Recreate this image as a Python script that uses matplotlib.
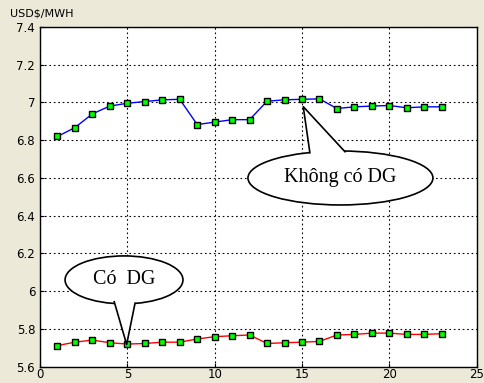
import matplotlib
matplotlib.use("Agg")
import matplotlib.pyplot as plt
from matplotlib.patches import Ellipse, Polygon

hours = list(range(1, 24))
khong_dg = [6.82, 6.867, 6.94, 6.981, 6.996, 7.005, 7.014, 7.017, 6.883, 6.896, 6.909, 6.909,
            7.007, 7.014, 7.017, 7.019, 6.968, 6.977, 6.981, 6.984, 6.972, 6.977, 6.977]
co_dg = [5.712, 5.730, 5.741, 5.727, 5.720, 5.723, 5.730, 5.730, 5.747, 5.759, 5.764, 5.768,
         5.723, 5.727, 5.730, 5.734, 5.768, 5.771, 5.778, 5.778, 5.771, 5.771, 5.775]
yticks = [5.6, 5.8, 6.0, 6.2, 6.4, 6.6, 6.8, 7.0, 7.2, 7.4]
ytick_labels = ["5.6", "5.8", "6", "6.2", "6.4", "6.6", "6.8", "7", "7.2", "7.4"]
xticks = [0, 5, 10, 15, 20, 25]

bg = "#ECE9D8"
fig = plt.figure(figsize=(4.85, 3.83), dpi=100, facecolor=bg)
ax = fig.add_axes([40 / 485, 1 - 366.7 / 383, 436.7 / 485, 339.7 / 383])
ax.set_facecolor("white")

mk = dict(marker="s", markersize=5, markerfacecolor="#00ff00", markeredgecolor="black",
          markeredgewidth=1.0)
ax.plot(hours, khong_dg, color="blue", lw=1, zorder=3, **mk)
ax.plot(hours, co_dg, color="red", lw=1, zorder=3, **mk)

ax.set_xlim(0, 25)
ax.set_ylim(5.6, 7.4)
ax.set_xticks(xticks)
ax.set_yticks(yticks)
ax.set_yticklabels(ytick_labels)
ax.grid(True, color="black", linestyle=(0, (1.5, 2.5)), lw=0.8)
ax.tick_params(direction="in", length=3, labelsize=8.5, colors="black")
ax.tick_params(axis="x", pad=1)
for s in ax.spines.values():
    s.set_color("black")
    s.set_linewidth(1)

fig.text(10 / 485, 1 - 14 / 383, "USD$/MWH", fontsize=8, va="center", ha="left")


def callout(cx, cy, w, h, tip, b1, b2, text):
    ax.add_patch(Ellipse((cx, cy), w, h, facecolor="white", edgecolor="black", lw=1.2, zorder=4))
    e1 = (b1[0] + (b1[0] - tip[0]) * 0.3, b1[1] + (b1[1] - tip[1]) * 0.3)
    e2 = (b2[0] + (b2[0] - tip[0]) * 0.3, b2[1] + (b2[1] - tip[1]) * 0.3)
    ax.add_patch(Polygon([tip, e1, e2], closed=True, facecolor="white", edgecolor="none", zorder=5))
    ax.plot([b1[0], tip[0], b2[0]], [b1[1], tip[1], b2[1]], color="black", lw=1.2, zorder=6)
    ax.text(cx, cy, text, fontsize=14.5, family="Liberation Serif", ha="center", va="center",
            zorder=7)


callout(17.2, 6.60, 10.59, 0.286, (15.07, 6.978), (15.45, 6.734), (17.46, 6.739), "Không có DG")
callout(4.81, 6.06, 6.75, 0.254, (4.96, 5.718), (4.25, 5.944), (5.44, 5.936), "Có  DG")

fig.savefig("out.png", dpi=100, facecolor=bg)
